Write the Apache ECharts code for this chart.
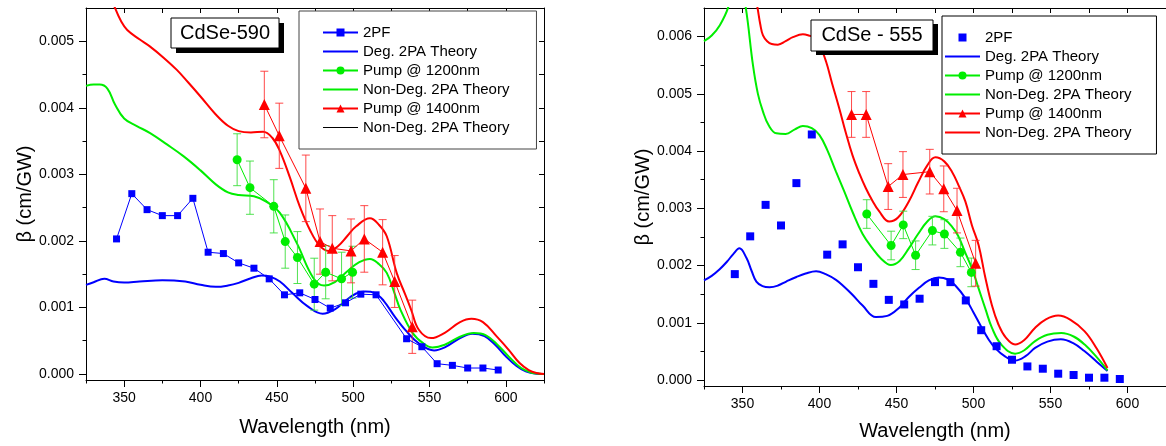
<!DOCTYPE html>
<html>
<head>
<meta charset="utf-8">
<script src="https://cdn.jsdelivr.net/npm/echarts@6/dist/echarts.min.js"></script>
<style>
html,body{margin:0;padding:0;background:#fff;}
#c{width:1166px;height:446px;}
</style>
</head>
<body>
<div id="c"></div>
<script>
// ---------------- LEFT PANEL: CdSe-590 ----------------
const L_2PF_nm = [345,355,365,375,385,395,405,415,425,435,445,455,465,475,485,495,505,515,535,545,555,565,575,585,595];
const L_2PF = [0.00203,0.00271,0.00247,0.00238,0.00238,0.00264,0.00183,0.00181,0.00167,0.00159,0.00143,0.00119,0.00122,0.00112,0.00099,0.00107,0.00120,0.00119,0.00053,0.00041,0.000155,0.00013,0.00009,0.00009,0.00006];

const L_deg_nm = [325,330,337,343,350,360,375,390,400,410,418,425,433,440,446,452,460,470,480,488,495,502,508,514,520,527,535,543,553,560,570,578,586,593,600,607,613,620,625];
const L_deg = [0.00134,0.00138,0.00143,0.00139,0.001375,0.00139,0.00141,0.00139,0.00134,0.00131,0.00133,0.00137,0.00144,0.00148,0.00146,0.00139,0.00122,0.00102,0.000905,0.00097,0.00110,0.00121,0.00124,0.00122,0.00110,0.00087,0.00064,0.00046,0.000355,0.00040,0.00054,0.000605,0.00057,0.00044,0.000265,0.00012,0.00004,0.000005,0];

const L_ndegG_nm = [325,330,334,339,344,350,358,367,378,389,400,410,418,425,435,443,452,463,474,481,488,496,504,511,517,522,527,531,539,546,552,560,570,579,587,595,602,610,617,622,625];
const L_ndegG = [0.00433,0.00435,0.00435,0.00429,0.00405,0.00384,0.00373,0.00362,0.00345,0.00327,0.00306,0.00285,0.00273,0.00269,0.00267,0.00259,0.00242,0.00197,0.00144,0.00133,0.00138,0.00154,0.00168,0.00173,0.00165,0.00152,0.00122,0.000965,0.000615,0.00046,0.00040,0.00044,0.00056,0.000615,0.00058,0.00043,0.00026,0.00009,0.00002,0.000005,0];

const L_ndegR_nm = [335,341,344,348,352,360,367,376,384.5,392,400,410,418,425,433,441,447,452,458.6,465,472,478,484,490,496,502,511,517,522,528.5,534,538,543,551,560,570,577.5,585,594,602,609,615,620,625];
const L_ndegR = [0.0060,0.0057,0.0055,0.0053,0.00517,0.00503,0.00492,0.00475,0.00457,0.00438,0.00417,0.00390,0.00373,0.00365,0.00363,0.00364,0.00355,0.00335,0.00295,0.00252,0.00215,0.00193,0.00185,0.00192,0.00207,0.00222,0.00234,0.00224,0.00207,0.00152,0.00120,0.000965,0.000665,0.00054,0.00062,0.00078,0.00083,0.00078,0.000565,0.00036,0.000165,0.00006,0.000015,0];

const L_p1200_nm = [424,432.4,448,455.5,463.5,474.5,482,492.4,499.6];
const L_p1200 = [0.00322,0.00280,0.00252,0.00199,0.00175,0.00135,0.00153,0.00143,0.00153];
const L_p1200_err = [0.00039,0.00040,0.00040,0.00040,0.00039,0.00039,0.00040,0.00040,0.00039];

const L_p1400_nm = [441.8,451.6,469,478.3,486.3,498.6,507.3,519.3,527.2,538.7];
const L_p1400 = [0.00405,0.00358,0.00279,0.00199,0.00189,0.00185,0.00203,0.00183,0.00139,0.00071];
const L_p1400_err = [0.00050,0.00049,0.00050,0.00049,0.00049,0.00048,0.00050,0.00049,0.00039,0.00040];

// ---------------- RIGHT PANEL: CdSe - 555 ----------------
const R_2PF_nm = [345,355,365,375,385,395,405,415,425,435,445,455,465,475,485,495,505,515,525,535,545,555,565,575,585,595];
const R_2PF = [0.00185,0.00251,0.00306,0.00270,0.00344,0.00429,0.00219,0.00237,0.00197,0.00168,0.00140,0.00132,0.00142,0.00171,0.00171,0.00139,0.00087,0.00059,0.000354,0.000237,0.000197,0.00011,0.000087,0.00004,0.00004,0.000017];

const R_deg_nm = [325,330,335,340,344,348,352.6,356,359,363,367.6,373,378.4,385,391,397.8,404,410.7,416,421.4,428,436.6,444,451.6,458,464.6,471,477.5,483,488.2,494.7,500,505.4,510,514,520,527,534,540,548,556.7,565,572,580,587];
const R_deg = [0.00174,0.00182,0.00193,0.00207,0.00220,0.00230,0.00213,0.00190,0.00172,0.00164,0.00162,0.00165,0.00172,0.00180,0.00186,0.00190,0.00185,0.00175,0.00163,0.00149,0.00130,0.00110,0.00112,0.00126,0.00145,0.00161,0.00174,0.00179,0.00176,0.00165,0.00143,0.00118,0.00091,0.00070,0.00056,0.00042,0.00034,0.00042,0.00056,0.00067,0.00071,0.00064,0.000505,0.00032,0.000157];

const R_ndegG_nm = [325,330,335.3,340.7,343,346,349,352.1,356.8,360,363.3,367,372,378,384,389.2,395,400,405,410.7,416,421.4,428,434.4,440,446.3,452,458,464,470,475.3,481,486,490,494.7,499,503.3,508,512,518,527,533,540,548,557,565,572.2,580,587];
const R_ndegG = [0.00592,0.00602,0.00620,0.00651,0.00685,0.0070,0.00685,0.00651,0.00550,0.00500,0.00469,0.00445,0.00431,0.00430,0.00438,0.00444,0.00440,0.00428,0.00402,0.00364,0.00330,0.00294,0.00255,0.00230,0.00212,0.00201,0.00208,0.00230,0.00255,0.00277,0.00286,0.00281,0.00268,0.00252,0.00222,0.00195,0.00160,0.00122,0.00091,0.00062,0.00046,0.00052,0.00068,0.00079,0.00082,0.00076,0.00062,0.00040,0.00017];

const R_ndegR_nm = [355,359.7,361.5,363.3,366,369,373,378,382.7,389.2,393,396.7,400,404.3,408,412.9,417,421.4,426,430.1,434,438.7,445.2,451,458,464,470,475.3,481,486,490.3,494.7,499,503.3,507.6,512,516.2,521,527,533,539.9,547,555,563,572.2,580,587];
const R_ndegR = [0.0072,0.00651,0.00622,0.00602,0.00592,0.00587,0.00586,0.00592,0.00599,0.00604,0.00602,0.00598,0.00586,0.00556,0.00520,0.00474,0.00433,0.00393,0.00360,0.00335,0.00315,0.00295,0.00277,0.00284,0.00312,0.00345,0.00375,0.00389,0.00382,0.00364,0.00340,0.00312,0.00270,0.00236,0.00180,0.00130,0.00097,0.00074,0.00062,0.00070,0.00091,0.00106,0.001125,0.00105,0.00085,0.00055,0.00021];

const R_p1200_nm = [430.7,446.5,454.4,462.4,473.3,481.1,491.5,498.6];
const R_p1200 = [0.00290,0.00235,0.00271,0.00218,0.00261,0.00255,0.00223,0.00188];
const R_p1200_err = [0.00025,0.00025,0.00024,0.00025,0.00025,0.00025,0.00025,0.00025];

const R_p1400_nm = [420.8,430.3,444.6,454.2,471.6,480.7,489.3,501.4];
const R_p1400 = [0.00464,0.00464,0.00338,0.00359,0.00364,0.00334,0.00296,0.00204];
const R_p1400_err = [0.00040,0.00040,0.00040,0.00040,0.00039,0.00040,0.00039,0.00040];

// ---------------- tick values ----------------
const X_major = [350,400,450,500,550,600];
const X_minor = [325,375,425,475,525,575,625];
const X_all = [325,350,375,400,425,450,475,500,525,550,575,600,625];
const L_Y_major = [0,0.001,0.002,0.003,0.004,0.005];
const L_Y_minor = [0.0005,0.0015,0.0025,0.0035,0.0045];
const L_Y_all = [0,0.0005,0.001,0.0015,0.002,0.0025,0.003,0.0035,0.004,0.0045,0.005];
const R_Y_major = [0,0.001,0.002,0.003,0.004,0.005,0.006];
const R_Y_minor = [0.0005,0.0015,0.0025,0.0035,0.0045,0.0055];

const LABELS = {
  L_2PF:'2PF', L_deg:'Deg. 2PA Theory', L_p1200:'Pump @ 1200nm', L_ndegG:'Non-Deg. 2PA Theory', L_p1400:'Pump @ 1400nm', L_ndegR:'Non-Deg. 2PA Theory',
  R_2PF:'2PF', R_deg:'Deg. 2PA Theory', R_p1200:'Pump @ 1200nm', R_ndegG:'Non-Deg. 2PA Theory', R_p1400:'Pump @ 1400nm', R_ndegR:'Non-Deg. 2PA Theory'
};

const FONT = '"Liberation Sans", Arial, Helvetica, sans-serif';
const BLUE = '#0000ff', GREEN = '#00ee00', RED = '#ff0000';

function zip(xs, ys){ return xs.map((x,i)=>[x, ys[i]]); }
function errData(xs, ys, es){ return xs.map((x,i)=>[x, ys[i]-es[i], ys[i]+es[i]]); }

function errRender(params, api){
  const x = api.value(0), lo = api.value(1), hi = api.value(2);
  const a = api.coord([x, lo]), b = api.coord([x, hi]);
  const w = 4;
  const st = {stroke: api.visual('color'), lineWidth: 1, opacity: 0.85};
  return {type:'group', children:[
    {type:'line', shape:{x1:a[0], y1:a[1], x2:b[0], y2:b[1]}, style:st},
    {type:'line', shape:{x1:a[0]-w, y1:a[1], x2:a[0]+w, y2:a[1]}, style:st},
    {type:'line', shape:{x1:b[0]-w, y1:b[1], x2:b[0]+w, y2:b[1]}, style:st}
  ]};
}

const axLine = {lineStyle:{color:'#000', width:1}};
const lblStyle = {fontSize:14, color:'#000', fontFamily:FONT};
const noSym = {opacity:0};

function xAxes(grid, nameGap){
  return [
    {type:'value', gridIndex:grid, min:325, max:625, position:'bottom',
     axisLine:{onZero:false, ...axLine},
     axisTick:{length:7, customValues:X_major, lineStyle:{color:'#000'}},
     axisLabel:{customValues:X_major, margin:11, ...lblStyle},
     splitLine:{show:false},
     name:'Wavelength (nm)', nameLocation:'middle', nameGap:nameGap,
     nameTextStyle:{fontSize:20, color:'#000', fontFamily:FONT}},
    {type:'value', gridIndex:grid, min:325, max:625, position:'bottom',
     axisLine:{show:false, onZero:false},
     axisTick:{length:3.5, customValues:X_minor, lineStyle:{color:'#000'}},
     axisLabel:{show:false}, splitLine:{show:false}},
    {type:'value', gridIndex:grid, min:325, max:625, position:'top',
     axisLine:{onZero:false, ...axLine},
     axisTick:{inside:true, length:5, customValues:X_all, lineStyle:{color:'#000'}},
     axisLabel:{show:false}, splitLine:{show:false}}
  ];
}

const option = {
  animation:false,
  backgroundColor:'#fff',
  grid:[
    {left:86, top:8, width:458, height:372},
    {left:704, top:8, width:467, height:380}
  ],
  xAxis:[...xAxes(0, 37), ...xAxes(1, 35)],
  yAxis:[
    {type:'value', gridIndex:0, min:-0.00009, max:0.0055, position:'left',
     axisLine:{onZero:false, ...axLine},
     axisTick:{length:7, customValues:L_Y_major, lineStyle:{color:'#000'}},
     axisLabel:{customValues:L_Y_major, margin:12, formatter:v=>v.toFixed(3), ...lblStyle},
     splitLine:{show:false},
     name:'β (cm/GW)', nameLocation:'middle', nameGap:50,
     nameTextStyle:{fontSize:20, color:'#000', fontFamily:FONT}},
    {type:'value', gridIndex:0, min:-0.00009, max:0.0055, position:'left',
     axisLine:{show:false, onZero:false},
     axisTick:{length:3.5, customValues:L_Y_minor, lineStyle:{color:'#000'}},
     axisLabel:{show:false}, splitLine:{show:false}},
    {type:'value', gridIndex:0, min:-0.00009, max:0.0055, position:'right',
     axisLine:{onZero:false, ...axLine},
     axisTick:{inside:true, length:5, customValues:L_Y_all, lineStyle:{color:'#000'}},
     axisLabel:{show:false}, splitLine:{show:false}},
    {type:'value', gridIndex:1, min:-0.000105, max:0.0065, position:'left',
     axisLine:{onZero:false, ...axLine},
     axisTick:{length:7, customValues:R_Y_major, lineStyle:{color:'#000'}},
     axisLabel:{customValues:R_Y_major, margin:12, formatter:v=>v.toFixed(3), ...lblStyle},
     splitLine:{show:false},
     name:'β (cm/GW)', nameLocation:'middle', nameGap:51,
     nameTextStyle:{fontSize:20, color:'#000', fontFamily:FONT}},
    {type:'value', gridIndex:1, min:-0.000105, max:0.0065, position:'left',
     axisLine:{show:false, onZero:false},
     axisTick:{length:3.5, customValues:R_Y_minor, lineStyle:{color:'#000'}},
     axisLabel:{show:false}, splitLine:{show:false}}
  ],
  legend:[
    {left:299, top:11, orient:'vertical', selectedMode:false,
     padding:[14,27,14,23], borderColor:'#444', borderWidth:1, backgroundColor:'#fff',
     itemWidth:35, itemHeight:10, itemGap:4,
     textStyle:{fontSize:15, color:'#000', fontFamily:FONT},
     formatter:n=>LABELS[n],
     data:[{name:'L_2PF'},{name:'L_deg', itemStyle:noSym},{name:'L_p1200'},{name:'L_ndegG', itemStyle:noSym},{name:'L_p1400'},
           {name:'L_ndegR', lineStyle:{color:'#000', width:1}, itemStyle:noSym}]},
    {left:942, top:16, orient:'vertical', selectedMode:false,
     padding:[14,25,14,2], borderColor:'#000', borderWidth:1, backgroundColor:'#fff',
     itemWidth:35, itemHeight:10, itemGap:4,
     textStyle:{fontSize:15, color:'#000', fontFamily:FONT},
     formatter:n=>LABELS[n],
     data:[{name:'R_2PF'},{name:'R_deg', itemStyle:noSym},{name:'R_p1200'},{name:'R_ndegG', itemStyle:noSym},{name:'R_p1400'},{name:'R_ndegR', itemStyle:noSym}]}
  ],
  graphic:[
    {type:'rect', shape:{x:176, y:23, width:108, height:30}, style:{fill:'#000'}, z:100},
    {type:'rect', shape:{x:171, y:18, width:108, height:30}, style:{fill:'#fff', stroke:'#000', lineWidth:1}, z:101},
    {type:'text', x:225, y:33, z:102, style:{text:'CdSe-590', font:'20px '+FONT, fill:'#000', align:'center', verticalAlign:'middle', textAlign:'center', textVerticalAlign:'middle'}},
    {type:'rect', shape:{x:816, y:24, width:122, height:31}, style:{fill:'#000'}, z:100},
    {type:'rect', shape:{x:811, y:20, width:122, height:31}, style:{fill:'#fff', stroke:'#000', lineWidth:1}, z:101},
    {type:'text', x:872, y:35.5, z:102, style:{text:'CdSe - 555', font:'20px '+FONT, fill:'#000', align:'center', verticalAlign:'middle', textAlign:'center', textVerticalAlign:'middle'}}
  ],
  series:[
    // ---- left theory
    {name:'L_deg', type:'line', xAxisIndex:0, yAxisIndex:0, data:zip(L_deg_nm, L_deg), smooth:0.4, symbol:'none', lineStyle:{color:BLUE, width:2}, itemStyle:{color:BLUE}, z:2},
    {name:'L_ndegG', type:'line', xAxisIndex:0, yAxisIndex:0, data:zip(L_ndegG_nm, L_ndegG), smooth:0.4, symbol:'none', lineStyle:{color:GREEN, width:2}, itemStyle:{color:GREEN}, z:2},
    {name:'L_ndegR', type:'line', xAxisIndex:0, yAxisIndex:0, data:zip(L_ndegR_nm, L_ndegR), smooth:0.4, symbol:'none', lineStyle:{color:RED, width:2}, itemStyle:{color:RED}, z:2},
    // ---- left error bars
    {name:'L_p1200_err', type:'custom', xAxisIndex:0, yAxisIndex:0, data:errData(L_p1200_nm, L_p1200, L_p1200_err), renderItem:errRender, itemStyle:{color:'#33dd33'}, encode:{x:0, y:[1,2]}, z:3},
    {name:'L_p1400_err', type:'custom', xAxisIndex:0, yAxisIndex:0, data:errData(L_p1400_nm, L_p1400, L_p1400_err), renderItem:errRender, itemStyle:{color:'#ff2a2a'}, encode:{x:0, y:[1,2]}, z:3},
    // ---- left data
    {name:'L_2PF', type:'line', xAxisIndex:0, yAxisIndex:0, data:zip(L_2PF_nm, L_2PF), symbol:'rect', symbolSize:7, showAllSymbol:true, lineStyle:{color:BLUE, width:1}, itemStyle:{color:BLUE}, z:4},
    {name:'L_p1200', type:'line', xAxisIndex:0, yAxisIndex:0, data:zip(L_p1200_nm, L_p1200), symbol:'circle', symbolSize:9, showAllSymbol:true, lineStyle:{color:GREEN, width:1}, itemStyle:{color:GREEN}, z:4},
    {name:'L_p1400', type:'line', xAxisIndex:0, yAxisIndex:0, data:zip(L_p1400_nm, L_p1400), symbol:'triangle', symbolSize:11, showAllSymbol:true, lineStyle:{color:RED, width:1}, itemStyle:{color:RED}, z:4},
    // ---- right theory
    {name:'R_deg', type:'line', xAxisIndex:3, yAxisIndex:3, data:zip(R_deg_nm, R_deg), smooth:0.4, symbol:'none', lineStyle:{color:BLUE, width:2}, itemStyle:{color:BLUE}, z:2},
    {name:'R_ndegG', type:'line', xAxisIndex:3, yAxisIndex:3, data:zip(R_ndegG_nm, R_ndegG), smooth:0.4, symbol:'none', lineStyle:{color:GREEN, width:2}, itemStyle:{color:GREEN}, z:2},
    {name:'R_ndegR', type:'line', xAxisIndex:3, yAxisIndex:3, data:zip(R_ndegR_nm, R_ndegR), smooth:0.4, symbol:'none', lineStyle:{color:RED, width:2}, itemStyle:{color:RED}, z:2},
    // ---- right error bars
    {name:'R_p1200_err', type:'custom', xAxisIndex:3, yAxisIndex:3, data:errData(R_p1200_nm, R_p1200, R_p1200_err), renderItem:errRender, itemStyle:{color:'#33dd33'}, encode:{x:0, y:[1,2]}, z:3},
    {name:'R_p1400_err', type:'custom', xAxisIndex:3, yAxisIndex:3, data:errData(R_p1400_nm, R_p1400, R_p1400_err), renderItem:errRender, itemStyle:{color:'#ff2a2a'}, encode:{x:0, y:[1,2]}, z:3},
    // ---- right data (2PF: markers only, no connecting line)
    {name:'R_2PF', type:'line', xAxisIndex:3, yAxisIndex:3, data:zip(R_2PF_nm, R_2PF), symbol:'rect', symbolSize:8, showAllSymbol:true, lineStyle:{color:BLUE, width:0, opacity:0}, itemStyle:{color:BLUE}, z:4},
    {name:'R_p1200', type:'line', xAxisIndex:3, yAxisIndex:3, data:zip(R_p1200_nm, R_p1200), symbol:'circle', symbolSize:9, showAllSymbol:true, lineStyle:{color:GREEN, width:1}, itemStyle:{color:GREEN}, z:4},
    {name:'R_p1400', type:'line', xAxisIndex:3, yAxisIndex:3, data:zip(R_p1400_nm, R_p1400), symbol:'triangle', symbolSize:11, showAllSymbol:true, lineStyle:{color:RED, width:1}, itemStyle:{color:RED}, z:4}
  ]
};

const chart = echarts.init(document.getElementById('c'), null, {renderer:'canvas'});
chart.setOption(option);
</script>
</body>
</html>
